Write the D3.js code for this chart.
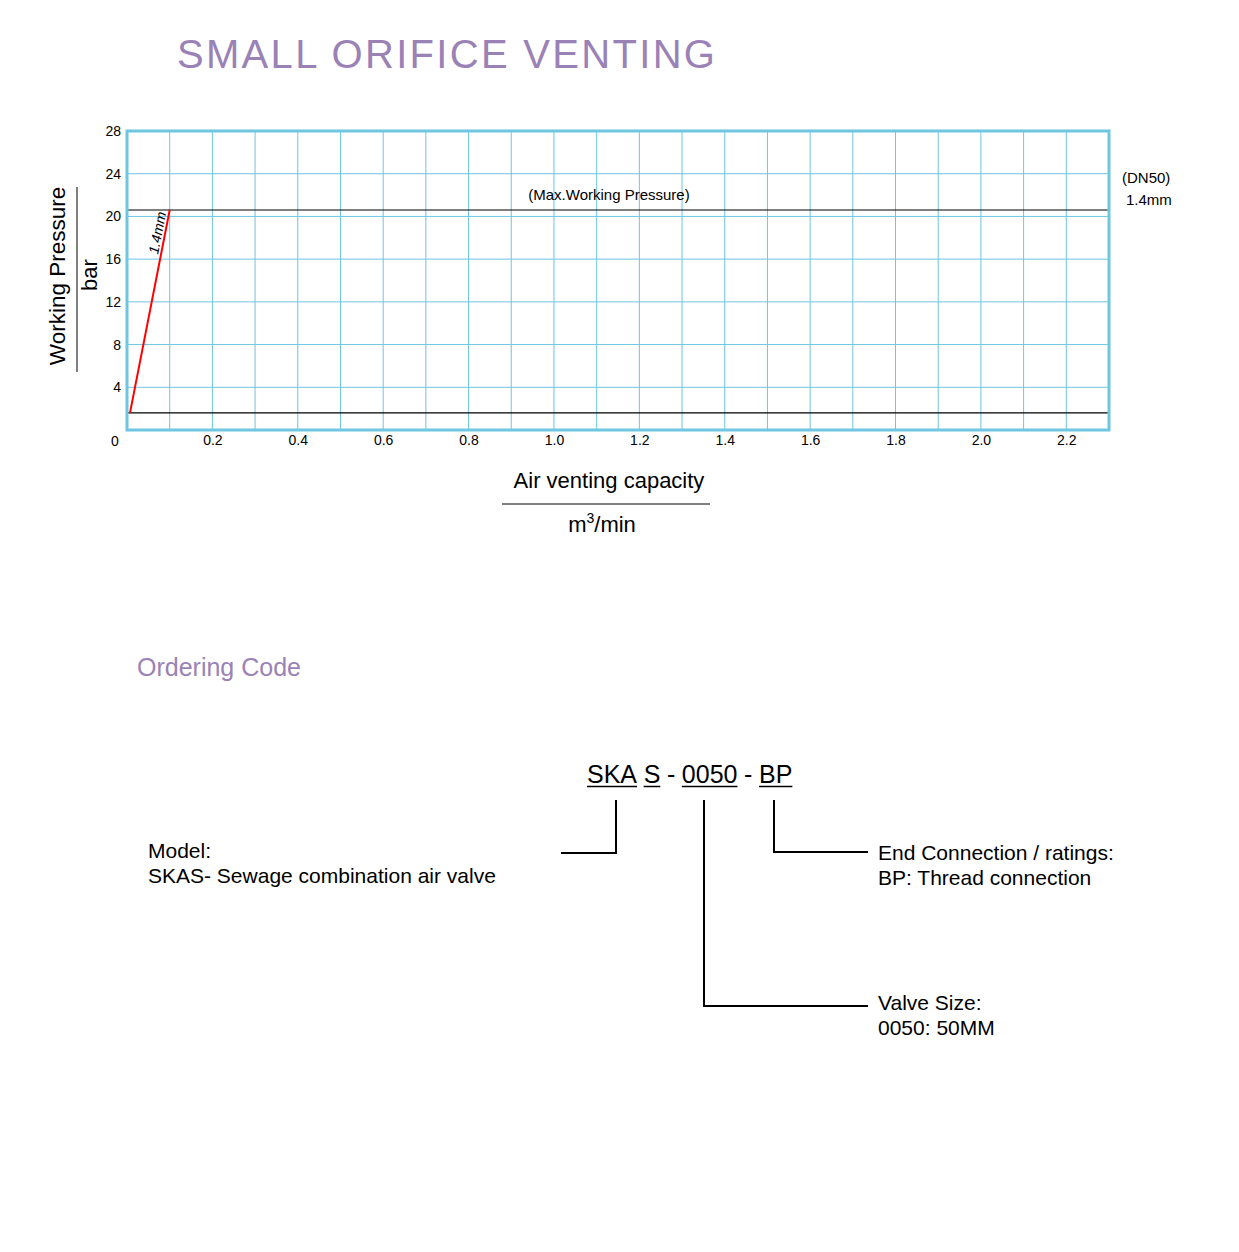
<!DOCTYPE html>
<html>
<head>
<meta charset="utf-8">
<script src="https://cdn.jsdelivr.net/npm/d3@7"></script>
<style>
  body { margin: 0; background: #fff; }
  text { font-family: 'Liberation Sans', Arial, sans-serif; }
</style>
</head>
<body>
<div id="chart"></div>
<script>
// chart values
var xTicks = [0.2, 0.4, 0.6, 0.8, 1.0, 1.2, 1.4, 1.6, 1.8, 2.0, 2.2];
var yTicks = [4, 8, 12, 16, 20, 24, 28];
var curve14 = [ { x: 0.007, y: 1.6 }, { x: 0.1, y: 20.6 } ];
var maxPressure = 20.6;
var minPressure = 1.6;
var codeParts = ['SKA', 'S', '-', '0050', '-', 'BP'];

var width = 1239, height = 1252;
var plot = { left: 127, right: 1109, top: 131, bottom: 430 };
var purple = '#9a82b6', gridBlue = '#6ec6e0';

var svg = d3.select('#chart').append('svg')
  .attr('width', width).attr('height', height);

svg.append('text')
  .attr('x', 177).attr('y', 68)
  .attr('font-size', 40).attr('fill', purple)
  .attr('letter-spacing', 2.3)
  .text('SMALL ORIFICE VENTING');

var xScale = d3.scaleLinear().domain([0, 2.3]).range([plot.left, plot.right]);
var yScale = d3.scaleLinear().domain([0, 28]).range([plot.bottom, plot.top]);

// grid
var grid = svg.append('g');
grid.selectAll('line.vx')
  .data(d3.range(1, 23).map(function(i){ return i / 10; }))
  .enter().append('line')
  .attr('x1', function(d){ return xScale(d); })
  .attr('x2', function(d){ return xScale(d); })
  .attr('y1', plot.top).attr('y2', plot.bottom)
  .attr('stroke', gridBlue).attr('stroke-width', 1);
grid.selectAll('line.hy')
  .data(yTicks.slice(0, -1))
  .enter().append('line')
  .attr('x1', plot.left).attr('x2', plot.right)
  .attr('y1', function(d){ return yScale(d); })
  .attr('y2', function(d){ return yScale(d); })
  .attr('stroke', gridBlue).attr('stroke-width', 1);

// pressure limit lines
[maxPressure, minPressure].forEach(function(p){
  svg.append('line')
    .attr('x1', plot.left).attr('x2', plot.right)
    .attr('y1', yScale(p)).attr('y2', yScale(p))
    .attr('stroke', '#000').attr('stroke-width', 1.2);
});

svg.append('rect')
  .attr('x', plot.left).attr('y', plot.top)
  .attr('width', plot.right - plot.left).attr('height', plot.bottom - plot.top)
  .attr('fill', 'none').attr('stroke', gridBlue).attr('stroke-width', 3);

// axes labels
var xAxis = d3.axisBottom(xScale).tickValues(xTicks).tickSize(0).tickPadding(5)
  .tickFormat(d3.format('.1f'));
var gx = svg.append('g').attr('transform', 'translate(0,' + plot.bottom + ')').call(xAxis);
gx.select('.domain').remove();
gx.selectAll('text').attr('font-size', 14).attr('fill', '#000')
  .attr('font-family', "'Liberation Sans', Arial, sans-serif");

var yAxis = d3.axisLeft(yScale).tickValues(yTicks).tickSize(0).tickPadding(6);
var gy = svg.append('g').attr('transform', 'translate(' + plot.left + ',0)').call(yAxis);
gy.select('.domain').remove();
gy.selectAll('text').attr('font-size', 14).attr('fill', '#000')
  .attr('font-family', "'Liberation Sans', Arial, sans-serif");

svg.append('text').attr('x', 115).attr('y', 446)
  .attr('font-size', 14).attr('text-anchor', 'middle').text('0');

// curve
var line = d3.line().x(function(d){ return xScale(d.x); }).y(function(d){ return yScale(d.y); });
svg.append('path').attr('d', line(curve14))
  .attr('fill', 'none').attr('stroke', '#ff0000').attr('stroke-width', 2);

var p0 = curve14[0], p1 = curve14[1];
var ang = Math.atan2(yScale(p1.y) - yScale(p0.y), xScale(p1.x) - xScale(p0.x)) * 180 / Math.PI;
var tLab = (16.4 - p0.y) / (p1.y - p0.y);
var labX = xScale(p0.x + tLab * (p1.x - p0.x)) - 3;
svg.append('text')
  .attr('transform', 'translate(' + labX + ',' + yScale(16.4) + ') rotate(' + ang + ')')
  .attr('font-size', 14).attr('font-style', 'italic').text('1.4mm');

svg.append('text').attr('x', 609).attr('y', 200)
  .attr('font-size', 15).attr('text-anchor', 'middle').text('(Max.Working Pressure)');
svg.append('text').attr('x', 1122).attr('y', 183).attr('font-size', 15).text('(DN50)');
svg.append('text').attr('x', 1126).attr('y', 205).attr('font-size', 15).text('1.4mm');

// axis titles
svg.append('text')
  .attr('transform', 'translate(65,276) rotate(-90)')
  .attr('font-size', 22.5).attr('text-anchor', 'middle').text('Working Pressure');
svg.append('line').attr('x1', 77).attr('x2', 77).attr('y1', 187).attr('y2', 372)
  .attr('stroke', '#000').attr('stroke-width', 1);
svg.append('text')
  .attr('transform', 'translate(97,275) rotate(-90)')
  .attr('font-size', 22).attr('text-anchor', 'middle').text('bar');

svg.append('text').attr('x', 609).attr('y', 488)
  .attr('font-size', 22).attr('text-anchor', 'middle').text('Air venting capacity');
svg.append('line').attr('x1', 502).attr('x2', 710).attr('y1', 504).attr('y2', 504)
  .attr('stroke', '#000').attr('stroke-width', 1);
var unit = svg.append('text').attr('x', 602).attr('y', 532)
  .attr('font-size', 22).attr('text-anchor', 'middle');
unit.append('tspan').text('m');
unit.append('tspan').attr('font-size', 14).attr('dy', -9).text('3');
unit.append('tspan').attr('dy', 9).text('/min');

// ordering code
svg.append('text').attr('x', 137).attr('y', 676)
  .attr('font-size', 25).attr('fill', purple).text('Ordering Code');

var code = svg.append('g');
var cx = 587;
codeParts.forEach(function(p){
  var t = code.append('text').attr('x', cx).attr('y', 783)
    .attr('font-size', 25).text(p);
  var w = t.node().getComputedTextLength();
  if (p !== '-') {
    code.append('line').attr('x1', cx).attr('x2', cx + w)
      .attr('y1', 786.5).attr('y2', 786.5)
      .attr('stroke', '#000').attr('stroke-width', 1.5);
  }
  cx += w + 6.6;
});

function connector(points) {
  svg.append('path').attr('d', d3.line()(points))
    .attr('fill', 'none').attr('stroke', '#000').attr('stroke-width', 2);
}
connector([[616, 800], [616, 853], [561, 853]]);
connector([[704, 800], [704, 1006], [868, 1006]]);
connector([[774, 800], [774, 852], [868, 852]]);

var desc = [
  { x: 148, y: 858, t: 'Model:' },
  { x: 148, y: 883, t: 'SKAS- Sewage combination air valve' },
  { x: 878, y: 860, t: 'End Connection / ratings:' },
  { x: 878, y: 885, t: 'BP: Thread connection' },
  { x: 878, y: 1010, t: 'Valve Size:' },
  { x: 878, y: 1035, t: '0050: 50MM' }
];
svg.selectAll('text.desc').data(desc).enter().append('text')
  .attr('class', 'desc')
  .attr('x', function(d){ return d.x; }).attr('y', function(d){ return d.y; })
  .attr('font-size', 21).text(function(d){ return d.t; });
</script>
</body>
</html>
